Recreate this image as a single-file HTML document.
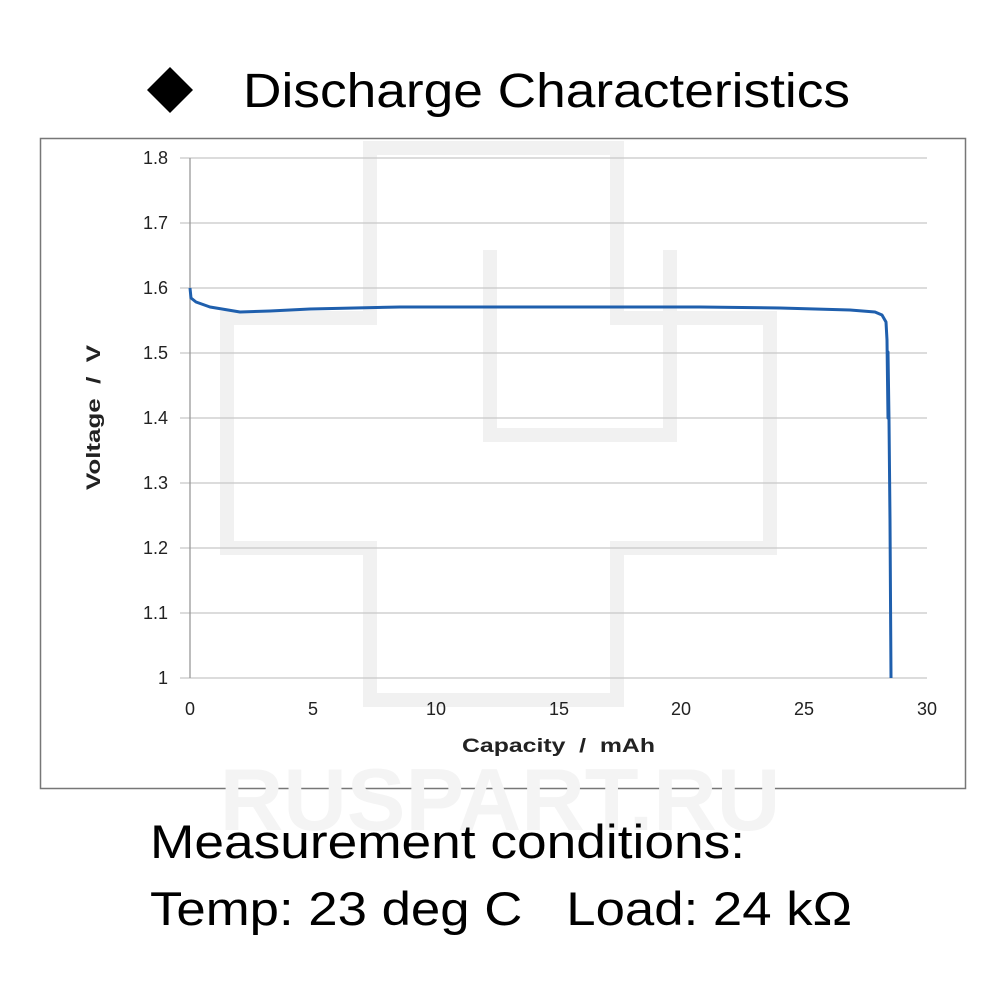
<!DOCTYPE html>
<html><head><meta charset="utf-8"><style>
body{margin:0;background:#fff;width:1000px;height:1000px;overflow:hidden;font-family:"Liberation Sans",sans-serif}
</style></head><body>
<svg width="1000" height="1000" xmlns="http://www.w3.org/2000/svg" font-family="Liberation Sans, sans-serif">
<rect width="1000" height="1000" fill="#fff"/>
<path d="M147 90 L170 67 L193 90 L170 113 Z" fill="#000"/>
<text x="243" y="107" font-size="48" fill="#000" textLength="607" lengthAdjust="spacingAndGlyphs">Discharge Characteristics</text>
<rect x="40.5" y="138.5" width="925" height="650" fill="#fff" stroke="#777" stroke-width="1.5"/>
<g fill="none" stroke="#f1f1f1" stroke-width="14">
<path d="M370 148 V318 H227 V548 H370 V700 H617 V548 H770 V318 H617 V148 Z"/>
<path d="M490 250 V435 H670 V250"/>
</g>
<text x="500" y="830" font-size="88" font-weight="bold" fill="#f4f4f4" text-anchor="middle">RUSPART.RU</text>
<g stroke="#c8c8c8" stroke-width="1.3">
<line x1="180" y1="158" x2="927" y2="158"/><line x1="180" y1="223" x2="927" y2="223"/>
<line x1="180" y1="288" x2="927" y2="288"/><line x1="180" y1="353" x2="927" y2="353"/>
<line x1="180" y1="418" x2="927" y2="418"/><line x1="180" y1="483" x2="927" y2="483"/>
<line x1="180" y1="548" x2="927" y2="548"/><line x1="180" y1="613" x2="927" y2="613"/>
<line x1="180" y1="678" x2="927" y2="678"/>
</g>
<line x1="190" y1="158" x2="190" y2="678" stroke="#999" stroke-width="1.3"/>
<g font-size="18" fill="#222" text-anchor="end">
<text x="168" y="164">1.8</text><text x="168" y="229">1.7</text><text x="168" y="294">1.6</text>
<text x="168" y="359">1.5</text><text x="168" y="424">1.4</text><text x="168" y="489">1.3</text>
<text x="168" y="554">1.2</text><text x="168" y="619">1.1</text><text x="168" y="684">1</text>
</g>
<g font-size="18" fill="#222" text-anchor="middle">
<text x="190" y="715">0</text><text x="313" y="715">5</text><text x="436" y="715">10</text>
<text x="559" y="715">15</text><text x="681" y="715">20</text><text x="804" y="715">25</text><text x="927" y="715">30</text>
</g>
<text x="462" y="752" font-size="19" font-weight="bold" fill="#222" textLength="193" lengthAdjust="spacingAndGlyphs" xml:space="preserve">Capacity  /  mAh</text>
<text transform="translate(100 490) rotate(-90)" font-size="19" font-weight="bold" fill="#222" textLength="145" lengthAdjust="spacingAndGlyphs" xml:space="preserve">Voltage  /  V</text>
<path d="M190 288 L191 298 L196 302 L210 307 L240 312 L270 311 L310 309 L400 307 L500 307 L600 307 L700 307 L780 308 L850 310 L875 312 L882 315 L886 322 L887 340 L888 418 L888 352 L889 420 L890 520 L891 678" fill="none" stroke="#1f5fad" stroke-width="3" stroke-linejoin="round"/>
<text x="150" y="858" font-size="47" fill="#000" textLength="595" lengthAdjust="spacingAndGlyphs">Measurement conditions:</text>
<text x="150" y="925" font-size="47" fill="#000" textLength="702" lengthAdjust="spacingAndGlyphs" xml:space="preserve">Temp: 23 deg C   Load: 24 kΩ</text>
</svg>
</body></html>
